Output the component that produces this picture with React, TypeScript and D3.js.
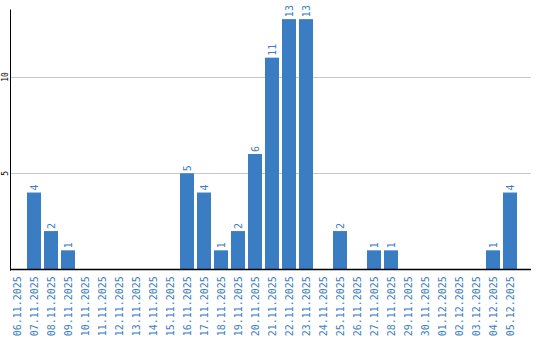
import React from "react";
import * as d3 from "d3";

const dates = [
  "06.11.2025", "07.11.2025", "08.11.2025", "09.11.2025", "10.11.2025",
  "11.11.2025", "12.11.2025", "13.11.2025", "14.11.2025", "15.11.2025",
  "16.11.2025", "17.11.2025", "18.11.2025", "19.11.2025", "20.11.2025",
  "21.11.2025", "22.11.2025", "23.11.2025", "24.11.2025", "25.11.2025",
  "26.11.2025", "27.11.2025", "28.11.2025", "29.11.2025", "30.11.2025",
  "01.12.2025", "02.12.2025", "03.12.2025", "04.12.2025", "05.12.2025",
];
const counts = [
  0, 4, 2, 1, 0,
  0, 0, 0, 0, 0,
  5, 4, 1, 2, 6,
  11, 13, 13, 0, 2,
  0, 1, 1, 0, 0,
  0, 0, 0, 1, 4,
];
const yTicks = [5, 10];
const yMax = 13.5;

const W = 540;
const H = 340;
const BLUE = "#3b7dc3";
const FONT = "'DejaVu Sans Mono', monospace";

export default function App() {
  const x = d3
    .scaleBand<string>()
    .domain(dates)
    .range([8.5, 518.5])
    .paddingInner(3 / 17)
    .paddingOuter(1.5 / 17);
  const y = d3.scaleLinear().domain([0, yMax]).range([269.6, 9.5]);
  const axisX = 10.5;
  const plotRight = 531;
  const base = y(0);

  return (
    <svg
      width={W}
      height={H}
      style={{ position: "absolute", left: 0, top: 0, background: "#fff" }}
    >
      {yTicks.map((t) => (
        <g key={t}>
          <line
            x1={axisX}
            x2={plotRight}
            y1={Math.round(y(t)) + 0.5}
            y2={Math.round(y(t)) + 0.5}
            stroke="#c8c8c8"
            strokeWidth={1}
          />
          <text
            transform={`translate(5.5,${y(t)}) rotate(-90)`}
            textAnchor="middle"
            dy="0.35em"
            fontFamily={FONT}
            fontSize={8}
            fill="#000"
          >
            {t}
          </text>
        </g>
      ))}
      {dates.map((d, i) => {
        const v = counts[i];
        if (!v) return null;
        const bx = x(d)!;
        const bw = x.bandwidth();
        return (
          <g key={d}>
            <rect x={bx} y={y(v)} width={bw} height={base - y(v)} fill={BLUE} />
            <text
              transform={`translate(${bx + bw / 2},${y(v) - 2}) rotate(-90)`}
              textAnchor="start"
              dy="0.35em"
              fontFamily={FONT}
              fontSize={10}
              fill={BLUE}
            >
              {v}
            </text>
          </g>
        );
      })}
      <line x1={axisX} x2={axisX} y1={9.5} y2={base + 1} stroke="#000" strokeWidth={1} />
      <line x1={axisX - 0.5} x2={plotRight} y1={base} y2={base} stroke="#000" strokeWidth={1.5} />
      {dates.map((d) => (
        <text
          key={d}
          transform={`translate(${x(d)! + x.bandwidth() / 2},${base + 6.5}) rotate(-90)`}
          textAnchor="end"
          dy="0.35em"
          fontFamily={FONT}
          fontSize={10}
          fill={BLUE}
        >
          {d}
        </text>
      ))}
    </svg>
  );
}
